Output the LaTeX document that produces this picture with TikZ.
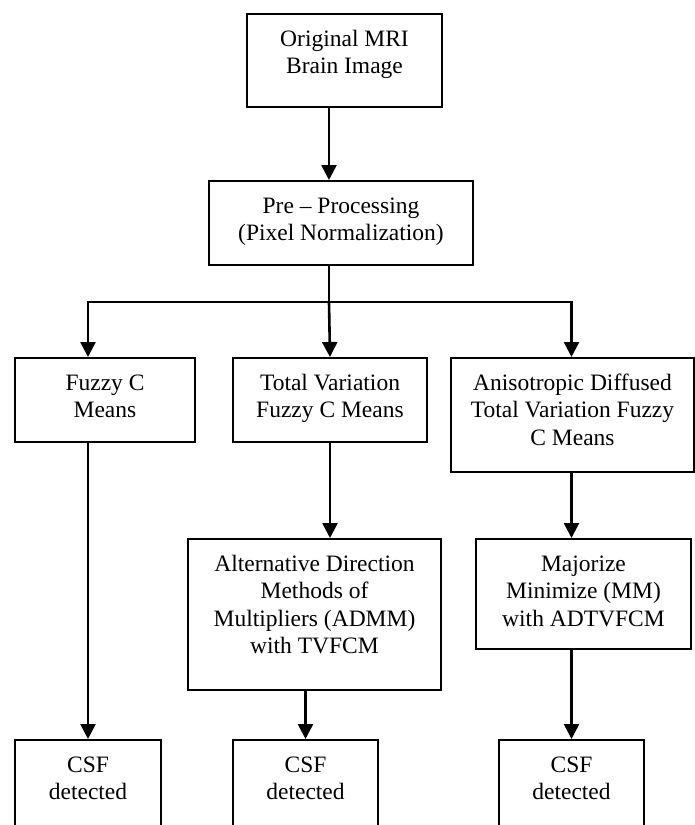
\documentclass[tikz,border=0pt]{standalone}
\usepackage{fontspec}
\setmainfont{Liberation Serif}
\usepackage{tikz}
\usetikzlibrary{arrows.meta}
\usetikzlibrary{positioning}

% text set at the top of a fixed size box
\newcommand{\boxtxt}[3]{\parbox[c][#2][t]{#1}{\centering\rule{0pt}{32pt}#3}}

\tikzset{
  box/.style={draw, line width=2pt, inner sep=0pt, anchor=north west},
  link/.style={line width=2.6pt},
  arrow/.style={link, -{Triangle[width=15pt,length=15pt]}}
}

\begin{document}
\begin{tikzpicture}[x=1pt, y=-1pt, font=\fontsize{23.5}{27.5}\selectfont]
        \useasboundingbox (0,0) rectangle (695,825);
        \clip (0,0) rectangle (695,825);

        \node[box] (top) at (246,13) {\boxtxt{195pt}{93pt}{Original MRI\\Brain Image}};
        \node[box] (pre) at (208,180) {\boxtxt{264pt}{84pt}{Pre – Processing\\(Pixel Normalization)}};

        \node[box] (fcm) at (14,357) {\boxtxt{180pt}{84pt}{Fuzzy C\\Means}};
        \node[box] (tv) at (232,357) {\boxtxt{194pt}{84pt}{Total Variation\\Fuzzy C Means}};
        \node[box] (adtv) at (450,357) {\boxtxt{243pt}{114pt}{Anisotropic Diffused\\Total Variation Fuzzy\\C Means}};

        \node[box] (admm) at (187,538) {\boxtxt{253pt}{151pt}{Alternative Direction\\Methods of\\Multipliers (ADMM)\\with TVFCM}};
        \node[box] (mm) at (475,538) {\boxtxt{215pt}{110pt}{Majorize\\Minimize (MM)\\with ADTVFCM}};

        \node[box] (csf1) at (14,739) {\boxtxt{146pt}{110pt}{CSF\\detected}};
        \node[box] (csf2) at (232,739) {\boxtxt{145pt}{110pt}{CSF\\detected}};
        \node[box] (csf3) at (498,739) {\boxtxt{145pt}{110pt}{CSF\\detected}};

        \coordinate (split) at (329,302);

        \draw[arrow] (top.south -| split) -- (pre.north -| split);
        \draw[link] (pre.south -| split) -- (split);
        \draw[arrow] (split) -| (fcm.north -| csf1.north);
        \draw[arrow] (split) -- (tv.north);
        \draw[arrow] (split) -| (adtv.north -| csf3.north);

        \draw[arrow] (tv.south) -- (tv.south |- admm.north);
        \draw[arrow] (adtv.south -| csf3.north) -- (mm.north -| csf3.north);

        \draw[arrow] (fcm.south -| csf1.north) -- (csf1.north);
        \draw[arrow] (admm.south -| csf2.north) -- (csf2.north);
        \draw[arrow] (mm.south -| csf3.north) -- (csf3.north);
\end{tikzpicture}
\end{document}
